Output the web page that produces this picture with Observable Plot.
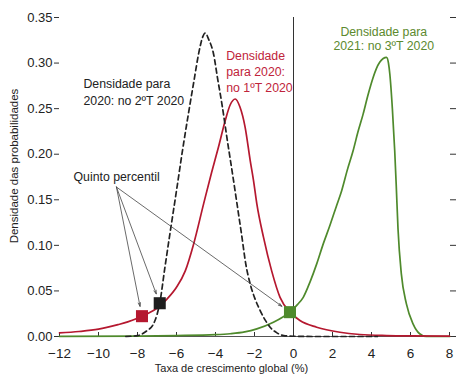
<!DOCTYPE html>
<html>
<head>
<meta charset="utf-8">
<script src="https://cdn.jsdelivr.net/npm/d3@7"></script>
<script src="https://cdn.jsdelivr.net/npm/@observablehq/plot@0.6"></script>
<style>
  html, body { margin: 0; padding: 0; background: #fff; }
  #chart svg { display: block; }
</style>
</head>
<body>
<div id="chart"></div>
<script>
// Density for 2020 in Q2 2020 (black dashed)
const q2X = [-8.6, -8.0, -7.5, -7.2, -7.0, -6.86, -6.6, -6.3, -6.0, -5.7, -5.4, -5.1, -4.85, -4.65, -4.53, -4.35, -4.1, -3.9, -3.67, -3.42, -3.11, -2.9, -2.65, -2.45, -2.2, -1.95, -1.71, -1.45, -1.2, -0.85, -0.5, 0, 1, 2, 3, 4.3];
const q2Y = [0.0, 0.001, 0.0066, 0.013, 0.024, 0.0365, 0.075, 0.118, 0.160, 0.203, 0.243, 0.281, 0.312, 0.329, 0.333, 0.326, 0.31, 0.284, 0.255, 0.219, 0.176, 0.146, 0.11, 0.08, 0.056, 0.04, 0.0285, 0.018, 0.0102, 0.004, 0.001, 0.0003, 0, 0, 0, 0];

// Density for 2020 in Q1 2020 (red)
const q1X = [-12, -11, -10, -9, -8.5, -8, -7.77, -7.5, -7, -6.49, -6, -5.55, -5.12, -4.61, -4.2, -3.85, -3.5, -3.25, -2.99, -2.75, -2.48, -2.22, -2.05, -1.88, -1.54, -1.12, -0.69, -0.18, 0.33, 1.19, 2.38, 3.4, 4.77, 6, 8];
const q1Y = [0.004, 0.0055, 0.008, 0.013, 0.016, 0.020, 0.0223, 0.025, 0.031, 0.041, 0.054, 0.072, 0.1016, 0.1455, 0.18, 0.2076, 0.237, 0.254, 0.2606, 0.252, 0.2295, 0.193, 0.171, 0.1455, 0.109, 0.072, 0.043, 0.0267, 0.0175, 0.0102, 0.0047, 0.0022, 0.001, 0.0006, 0.0004];

// Density for 2021 in Q3 2020 (green)
const q3X = [-12, -8, -6, -4, -3.25, -2.5, -1.88, -1.03, -0.5, -0.18, 0.2, 0.5, 0.85, 1.19, 1.5, 1.87, 2.2, 2.47, 2.75, 3.06, 3.3, 3.57, 3.82, 4.08, 4.25, 4.42, 4.6, 4.77, 4.87, 4.94, 5.07, 5.19, 5.27, 5.36, 5.53, 5.79, 6.13, 6.47, 6.81, 8];
const q3Y = [0.0002, 0.0005, 0.001, 0.002, 0.003, 0.005, 0.0084, 0.0157, 0.022, 0.0267, 0.035, 0.043, 0.06, 0.0797, 0.1, 0.122, 0.143, 0.16, 0.182, 0.204, 0.224, 0.244, 0.265, 0.284, 0.294, 0.3008, 0.305, 0.3063, 0.300, 0.288, 0.25, 0.204, 0.165, 0.118, 0.0687, 0.0358, 0.0139, 0.003, 0, 0];

// Fifth percentile markers (Q1 2020, Q2 2020, Q3 2020)
const pctX = [-7.77, -6.86, -0.18];
const pctY = [0.0223, 0.0365, 0.0267];

// Ticks
const xTicks = [-12, -10, -8, -6, -4, -2, 0, 2, 4, 6, 8];
const yTicks = [0, 0.05, 0.10, 0.15, 0.20, 0.25, 0.30, 0.35];

const RED = "#b5182f", GREEN = "#4f8a2c", BLACK = "#222";
const markerColors = [RED, "#1e1e1e", GREEN];

const toRows = (xs, ys) => xs.map((x, i) => ({x, y: ys[i]}));
const q1 = toRows(q1X, q1Y), q2 = toRows(q2X, q2Y), q3 = toRows(q3X, q3Y);
const pct = toRows(pctX, pctY);

const FONT = '"Liberation Sans", Arial, sans-serif';

const chart = Plot.plot({
  width: 459,
  height: 381,
  marginLeft: 59,
  marginRight: 10,
  marginTop: 17,
  marginBottom: 45,
  style: {fontFamily: FONT, fontSize: "12px", color: "#222", background: "#fff"},
  x: {domain: [-12, 8], axis: null, label: null},
  y: {domain: [0, 0.35], axis: null, label: null},
  marks: [
    // axes
    Plot.axisY({ticks: yTicks, tickSize: 5, tickPadding: 2, tickFormat: d3.format(".2f"), label: null, stroke: "#333", fontSize: 13}),
    Plot.axisY({anchor: "right", ticks: yTicks, tickSize: 6, tickFormat: () => "", label: null, stroke: "#333"}),
    Plot.axisX({ticks: xTicks, tickSize: -4, tickFormat: () => "", label: null, stroke: "#333"}),
    Plot.axisX({ticks: xTicks, tickSize: 0, tickPadding: 12, label: null, fontSize: 13.5}),
    Plot.ruleY([0], {stroke: "#555", strokeWidth: 1}),
    Plot.ruleX([0], {stroke: "#333", strokeWidth: 1}),
    // axis titles
    Plot.text(["Taxa de crescimento global (%)"], {frameAnchor: "bottom", dx: -23, dy: 35, fontSize: 11, fill: "#222"}),
    Plot.text(["Densidade das probabilidades"], {frameAnchor: "left", textAnchor: "middle", rotate: -90, dx: -45, dy: -11, fontSize: 11.5, fill: "#222"}),
    // curves
    Plot.line(q3, {x: "x", y: "y", stroke: GREEN, strokeWidth: 1.7, curve: "monotone-x"}),
    Plot.line(q1, {x: "x", y: "y", stroke: RED, strokeWidth: 1.7, curve: "monotone-x"}),
    Plot.line(q2, {x: "x", y: "y", stroke: BLACK, strokeWidth: 1.7, strokeDasharray: "5,3.5", curve: "monotone-x"}),
    // arrows from the "Quinto percentil" label
    Plot.arrow(pct, {x1: () => -9.08, y1: () => 0.164, x2: "x", y2: "y", insetEnd: 10, stroke: "#444", strokeWidth: 0.8, headAngle: 36, headLength: 7}),
    // fifth percentile markers
    Plot.dot(pct, {x: "x", y: "y", symbol: "square", r: 6.8, fill: (d, i) => markerColors[i], stroke: "none"}),
    // annotations
    Plot.text(["Quinto percentil"], {x: -11.28, y: 0.1748, textAnchor: "start", fontSize: 12.3, fill: "#222"}),
    Plot.text(["Densidade para\n2020: no 2ºT 2020"], {x: -10.77, y: 0.269, textAnchor: "start", lineHeight: 1.38, fontSize: 12.3, fill: "#222"}),
    Plot.text(["Densidade\npara 2020:\nno 1ºT 2020"], {x: -3.45, y: 0.2917, textAnchor: "start", lineHeight: 1.3, fontSize: 12.3, fill: "#c0243b"}),
    Plot.text(["Densidade para\n2021: no 3ºT 2020"], {x: 4.63, y: 0.3273, textAnchor: "middle", lineHeight: 1.22, fontSize: 12.3, fill: "#5c8a2e"})
  ]
});
document.getElementById("chart").appendChild(chart);
</script>
</body>
</html>
